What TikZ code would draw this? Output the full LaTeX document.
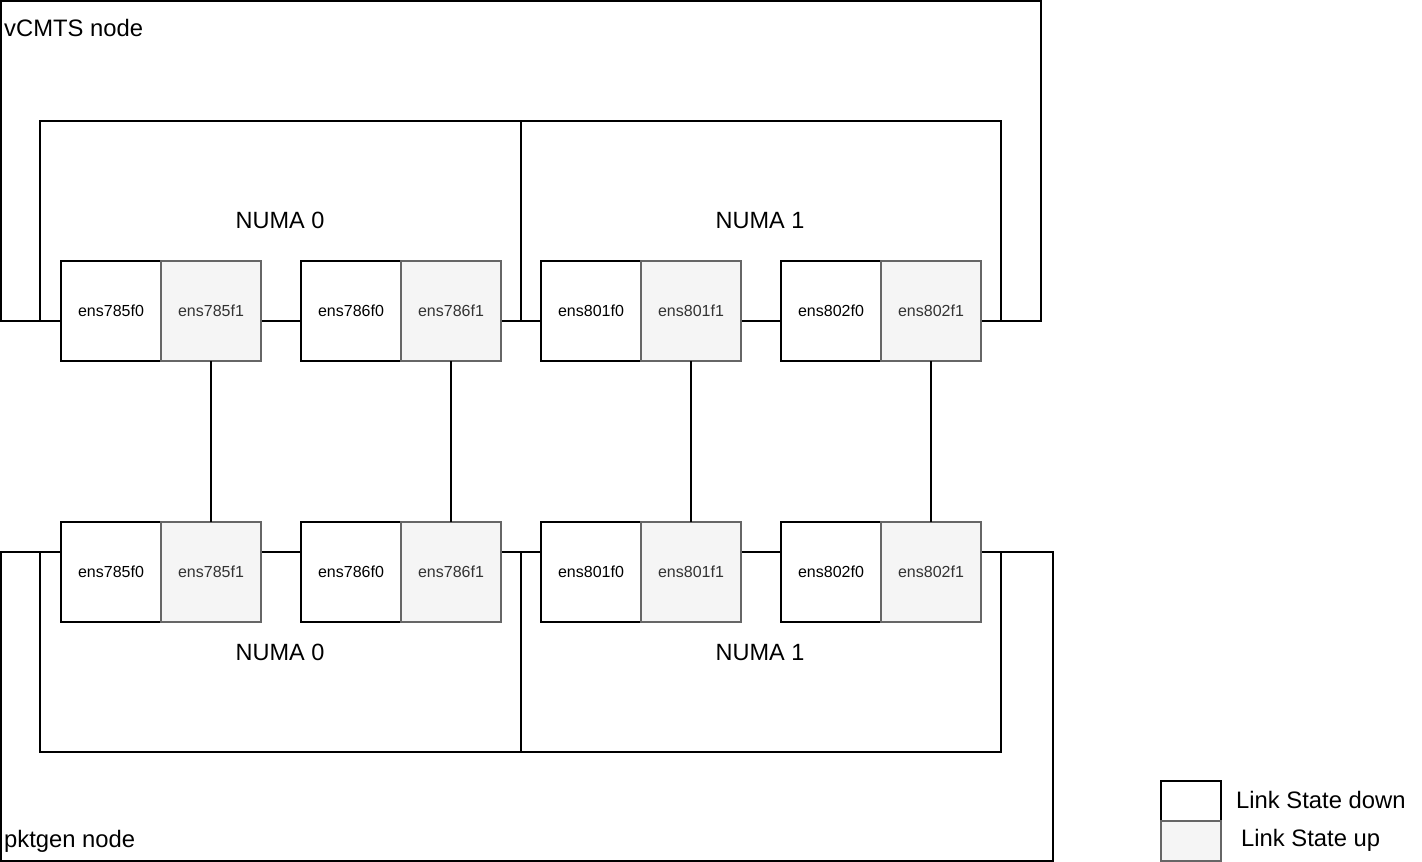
\documentclass[tikz,border=0pt]{standalone}
\usepackage{fontspec}
\setmainfont{Liberation Sans}
\definecolor{upfill}{HTML}{F5F5F5}
\definecolor{updraw}{HTML}{666666}
\definecolor{uptext}{HTML}{333333}
\begin{document}
\begin{tikzpicture}[x=1pt,y=-1pt,
  frame/.style={draw=black, line width=2pt},
  numabox/.style={draw=black, fill=white, line width=2pt},
  portdown/.style={draw=black, fill=white, line width=2pt, minimum width=100pt, minimum height=100pt, inner sep=0pt, outer sep=0pt, font=\fontsize{16}{19}\selectfont, text=black},
  portup/.style={portdown, draw=updraw, fill=upfill, text=uptext},
  legdown/.style={draw=black, fill=white, line width=2pt, minimum width=60pt, minimum height=40pt, inner sep=0pt, outer sep=0pt},
  legup/.style={legdown, draw=updraw, fill=upfill},
  bigtext/.style={font=\fontsize{23.8}{27}\selectfont, inner sep=0pt},
  numatext/.style={font=\fontsize{23.5}{27}\selectfont, inner sep=0pt, anchor=base},
  link/.style={draw=black, line width=2pt}]
\useasboundingbox (0,0) rectangle (1422,862);

% outer node frames
\draw[frame] (1,1) rectangle (1041,321);
\draw[frame] (1,552) rectangle (1053,861);
\node[bigtext, anchor=west] (vcmts) at (4,28) {vCMTS node};
\node[bigtext, anchor=west] (pktgen) at (4,841) {pktgen node};

% NUMA boxes
\draw[numabox] (40,121) rectangle (521,321);
\draw[numabox] (521,121) rectangle (1001,321);
\draw[numabox] (40,552) rectangle (521,752);
\draw[numabox] (521,552) rectangle (1001,752);
\node[numatext] (tn0) at (280,228.4) {NUMA 0};
\node[numatext] (tn1) at (760,228.4) {NUMA 1};
\node[numatext] (bn0) at (280,660.4) {NUMA 0};
\node[numatext] (bn1) at (760,660.4) {NUMA 1};

% top row ports
\node[portdown] (t785f0) at (111,311) {ens785f0};
\node[portup]   (t785f1) at (211,311) {ens785f1};
\node[portdown] (t786f0) at (351,311) {ens786f0};
\node[portup]   (t786f1) at (451,311) {ens786f1};
\node[portdown] (t801f0) at (591,311) {ens801f0};
\node[portup]   (t801f1) at (691,311) {ens801f1};
\node[portdown] (t802f0) at (831,311) {ens802f0};
\node[portup]   (t802f1) at (931,311) {ens802f1};

% bottom row ports
\node[portdown] (b785f0) at (111,572) {ens785f0};
\node[portup]   (b785f1) at (211,572) {ens785f1};
\node[portdown] (b786f0) at (351,572) {ens786f0};
\node[portup]   (b786f1) at (451,572) {ens786f1};
\node[portdown] (b801f0) at (591,572) {ens801f0};
\node[portup]   (b801f1) at (691,572) {ens801f1};
\node[portdown] (b802f0) at (831,572) {ens802f0};
\node[portup]   (b802f1) at (931,572) {ens802f1};

% links
\draw[link] (t785f1.south) -- (b785f1.north);
\draw[link] (t786f1.south) -- (b786f1.north);
\draw[link] (t801f1.south) -- (b801f1.north);
\draw[link] (t802f1.south) -- (b802f1.north);

% legend
\node[legdown] (ldown) at (1191,801) {};
\node[legup]   (lup)   at (1191,841) {};
\node[bigtext, anchor=west] (ldowntext) at (1236,800) {Link State down};
\node[bigtext, anchor=west] (luptext) at (1241,840) {Link State up};
\end{tikzpicture}
\end{document}
